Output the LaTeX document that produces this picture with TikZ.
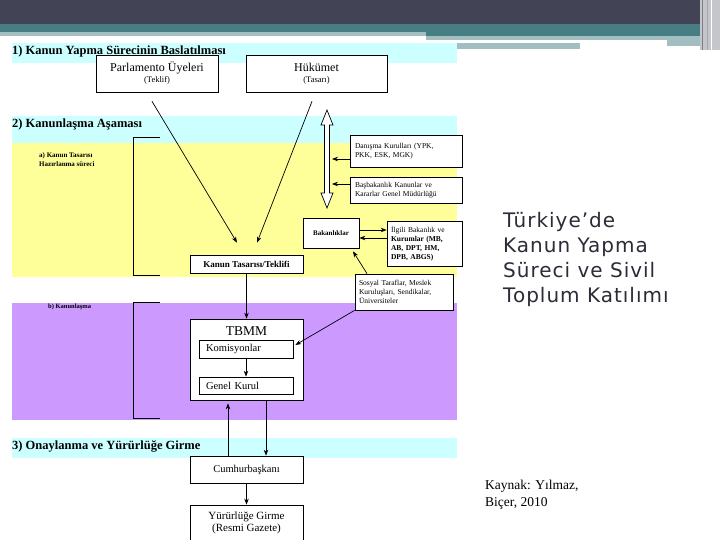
\documentclass[tikz,border=0pt]{standalone}
\usepackage{fontspec}
\setmainfont{Liberation Serif}
\newfontfamily\titlefont[LetterSpace=5]{DejaVu Sans}
\usetikzlibrary{arrows.meta,calc}
\definecolor{darkbar}{HTML}{434356}
\definecolor{tealbar}{HTML}{467E83}
\definecolor{graybar}{HTML}{A3BEC0}
\definecolor{stripe}{HTML}{C4C6CC}
\definecolor{bandcyan}{HTML}{CCFFFF}
\definecolor{bandyellow}{HTML}{FFFF99}
\definecolor{bandpurple}{HTML}{CC99FF}
\definecolor{titlegray}{HTML}{2C2C38}
\begin{document}
\begin{tikzpicture}[x=1pt,y=-1pt,
  box/.style={draw, fill=white, line width=0.7pt, inner sep=0pt, align=center},
  sbox/.style={box, align=left, font=\fontsize{7.5}{9}\selectfont, inner xsep=5pt},
  arr/.style={-{Stealth[length=6pt,width=4.5pt]}, line width=0.7pt},
  bracket/.style={line width=0.8pt},
  sect/.style={anchor=west, font=\bfseries\fontsize{12.5}{14}\selectfont, inner sep=0pt}]
\useasboundingbox (0,0) rectangle (720,540);
\fill[white] (0,0) rectangle (720,540);
% header
\fill[darkbar] (0,0) rectangle (700,24);
\fill[tealbar] (0,24) rectangle (700,36);
\fill[graybar] (0,32) rectangle (426,36);
\fill[graybar] (426,36) rectangle (700,40);
\fill[white] (426,40) rectangle (667,43);
\fill[graybar] (667,40) rectangle (700,46);
\fill[graybar] (457,43) rectangle (580,49);
\fill[stripe] (700,0) rectangle (720,50);
\draw[gray, line width=0.8pt] (702,0) -- (702,50);
\draw[gray!70, line width=1pt] (707,0) -- (707,50);
\draw[white, line width=1pt] (711,0) -- (711,50);
% bands
\fill[bandcyan] (12,43) rectangle (457,63);
\fill[bandcyan] (12,116) rectangle (457,143);
\fill[bandyellow] (12,143) rectangle (457,277);
\fill[bandpurple] (12,303) rectangle (457,420);
\fill[bandcyan] (12,438) rectangle (457,458);
% section titles
\node[sect] (s1) at (12,51) {1) Kanun Yapma Sürecinin Baslatılması};
\node[sect] (s2) at (12,124) {2) Kanunlaşma Aşaması};
\node[sect] (s3) at (12,446) {3) Onaylanma ve Yürürlüğe Girme};
\node[anchor=north west, align=left, inner sep=0pt, font=\bfseries\fontsize{7}{9}\selectfont] (la) at (39,152) {a) Kanun Tasarısı\\Hazırlanma süreci};
\node[anchor=west, inner sep=0pt, font=\bfseries\fontsize{6.5}{8}\selectfont] (lb) at (48,307) {b) Kanunlaşma};
% brackets
\draw[bracket] (160,137) -- (133,137) -- (133,275) -- (160,275);
\draw[bracket] (160,302) -- (133,302) -- (133,418) -- (160,418);
% boxes
\node[box, minimum width=122pt, minimum height=37pt] (parl) at (157,73.5)
  {\fontsize{12}{13}\selectfont Parlamento Üyeleri\\[-1pt]\fontsize{8.5}{9}\selectfont (Teklif)};
\node[box, minimum width=141pt, minimum height=37pt] (huk) at (316.5,73.5)
  {\fontsize{12}{13}\selectfont Hükümet\\[-1pt]\fontsize{8.5}{9}\selectfont (Tasarı)};
\node[box, minimum width=113pt, minimum height=18pt, font=\bfseries\fontsize{9}{10}\selectfont] (kanun) at (246.5,264) {Kanun Tasarısı/Teklifi};
\node[sbox, text width=102pt, minimum height=32pt, inner xsep=5pt] (danisma) at (406,151) {Danışma Kurulları (YPK,\\PKK, ESK, MGK)};
\node[sbox, text width=102pt, minimum height=26pt, inner xsep=5pt] (basbakan) at (406,190) {Başbakanlık Kanunlar ve\\Kararlar Genel Müdürlüğü};
\node[box, minimum width=56pt, minimum height=30pt, font=\bfseries\fontsize{7}{9}\selectfont] (bakan) at (331,233) {Bakanlıklar};
\node[sbox, text width=67pt, minimum height=45pt, inner xsep=4pt] (ilgili) at (424.5,243.5) {İlgili Bakanlık ve\\\textbf{Kurumlar (MB,}\\\textbf{AB, DPT, HM,}\\\textbf{DPB, ABGS)}};
\node[sbox, text width=90pt, minimum height=36pt, inner xsep=4pt] (sosyal) at (404,292) {Sosyal Taraflar, Meslek\\Kuruluşları, Sendikalar,\\Üniversiteler};
\node[box, minimum width=113pt, minimum height=81pt] (tbmm) at (246.5,359.5) {};
\node[inner sep=0pt, font=\fontsize{13.5}{15}\selectfont] (tbmmlbl) at (246.5,331) {TBMM};
\node[box, minimum width=94pt, minimum height=18pt, align=left, text width=80pt, font=\fontsize{10.5}{12}\selectfont] (komis) at (246,349) {Komisyonlar};
\node[box, minimum width=94pt, minimum height=17pt, align=left, text width=80pt, font=\fontsize{10.5}{12}\selectfont] (genel) at (246,385.5) {Genel Kurul};
\node[box, minimum width=113pt, minimum height=27pt, font=\fontsize{10.5}{12}\selectfont] (cumhur) at (246.5,469.5) {Cumhurbaşkanı};
\node[box, minimum width=113pt, minimum height=36pt, font=\fontsize{11}{12}\selectfont] (yur) at (246.5,523) {Yürürlüğe Girme\\(Resmi Gazete)};
% right title
\node[anchor=north west, align=left, inner sep=0pt, text=titlegray, font=\titlefont\fontsize{20}{25}\selectfont] (title) at (503,212) {Türkiye’de\\Kanun Yapma\\Süreci ve Sivil\\Toplum Katılımı};
\node[anchor=north west, align=left, inner sep=0pt, font=\fontsize{13.5}{17}\selectfont] (kaynak) at (485,480) {Kaynak: Yılmaz,\\Biçer, 2010};
% connectors
\coordinate (p1) at ($(parl.south)+(-5,9)$);
\coordinate (p2) at ($(kanun.north)+(-9.5,-12)$);
\coordinate (h1) at ($(huk.south)+(-4.5,9)$);
\coordinate (h2) at ($(kanun.north)+(10.5,-12)$);
\draw[arr] (p1) -- (p2);
\draw[arr] (h1) -- (h2);
% hollow double arrow
\draw[fill=white, line width=0.7pt] (327,110) -- (333,125) -- (329.5,125) -- (329.5,193) -- (333,193) -- (327,208)
  -- (321,193) -- (324.5,193) -- (324.5,125) -- (321,125) -- cycle;
\coordinate (dtip) at (332,159);
\coordinate (btip) at (332,184);
\draw[arr] ($(danisma.west)+(0,8)$) -- (dtip);
\draw[arr] ($(basbakan.west)+(0,-6)$) -- (btip);
\draw[arr] ($(bakan.east)+(0,-3)$) -- ($(ilgili.west)+(0,-13.5)$);
\draw[arr] ($(ilgili.west)+(0,-5.5)$) -- ($(bakan.east)+(0,5)$);
\draw[arr] ($(sosyal.north)+(-37,0)$) -- ($(bakan.south)+(22,3)$);
\draw[arr] (sosyal.south west) -- ($(komis.east)+(2,-4)$);
\draw[arr] (kanun.south) -- (tbmm.north);
\draw[arr] (komis.south) -- (genel.north);
\draw[arr] ($(cumhur.north)+(-18.5,0)$) -- ($(tbmm.south)+(-18.5,3)$);
\draw[arr] ($(tbmm.south)+(19.5,0)$) -- ($(cumhur.north)+(19.5,0)$);
\draw[arr] (cumhur.south) -- (yur.north);
\end{tikzpicture}
\end{document}
